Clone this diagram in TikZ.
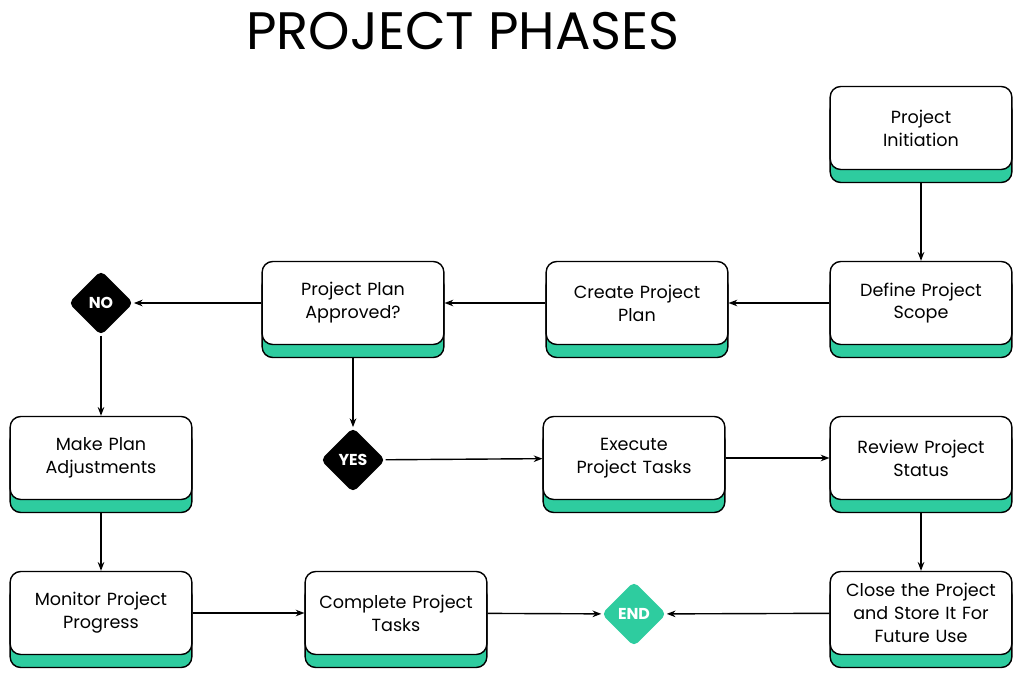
\documentclass[tikz,border=0pt]{standalone}
\usepackage{fontspec}
\setmainfont{Poppins}
\usetikzlibrary{shapes.geometric,shadows,arrows.meta}
\definecolor{mint}{HTML}{2ECC9F}
\tikzset{
  phase/.style={draw, thick, fill=white, rounded corners=6pt, minimum width=3.54cm, minimum height=1.66cm,
    align=center, text width=3.4cm, font=\fontsize{10}{13}\selectfont,
    general shadow={shadow yshift=-0.26cm, fill=mint, draw=black, thick, rounded corners=6pt}},
  choice/.style={diamond, fill=black, text=white, minimum size=1.3cm, inner sep=0pt, rounded corners=3pt,
    font=\fontsize{9}{11}\selectfont\bfseries},
  flow/.style={-{Stealth[length=5pt]}, thick}
}
\begin{document}
\begin{tikzpicture}[x=0.02cm,y=-0.02cm]
\useasboundingbox (0,0) rectangle (1024,676);
\node (title) at (463,31) {\fontsize{30}{34}\selectfont PROJECT PHASES};
% boxes
\node[phase] (init) at (921,128) {Project\\Initiation};
\node[phase] (scope) at (921,303) {Define Project\\Scope};
\node[phase] (plan) at (637,303) {Create Project\\Plan};
\node[phase] (approved) at (353,303) {Project Plan\\Approved?};
\node[phase] (adjust) at (101,458) {Make Plan\\Adjustments};
\node[phase] (execute) at (634,458) {Execute\\Project Tasks};
\node[phase] (review) at (921,458) {Review Project\\Status};
\node[phase] (monitor) at (101,613) {Monitor Project\\Progress};
\node[phase] (complete) at (396,613) {Complete Project\\Tasks};
\node[phase] (close) at (921,613) {Close the Project\\and Store It For\\Future Use};
% decisions
\node[choice] (no) at (101,303) {NO};
\node[choice] (yes) at (353,460) {YES};
\node[choice, fill=mint] (end) at (634,614) {END};
% arrows
\draw[flow] ([yshift=-0.26cm]init.south) -- (scope.north);
\draw[flow] (scope) -- (plan);
\draw[flow] (plan) -- (approved);
\draw[flow] (approved) -- (no);
\draw[flow] (no) -- (adjust);
\draw[flow] ([yshift=-0.26cm]approved.south) -- (yes);
\draw[flow] (yes) -- (execute);
\draw[flow] (execute) -- (review);
\draw[flow] ([yshift=-0.26cm]review.south) -- (close);
\draw[flow] (close) -- (end);
\draw[flow] ([yshift=-0.26cm]adjust.south) -- (monitor);
\draw[flow] (monitor) -- (complete);
\draw[flow] (complete) -- (end);
\end{tikzpicture}
\end{document}
